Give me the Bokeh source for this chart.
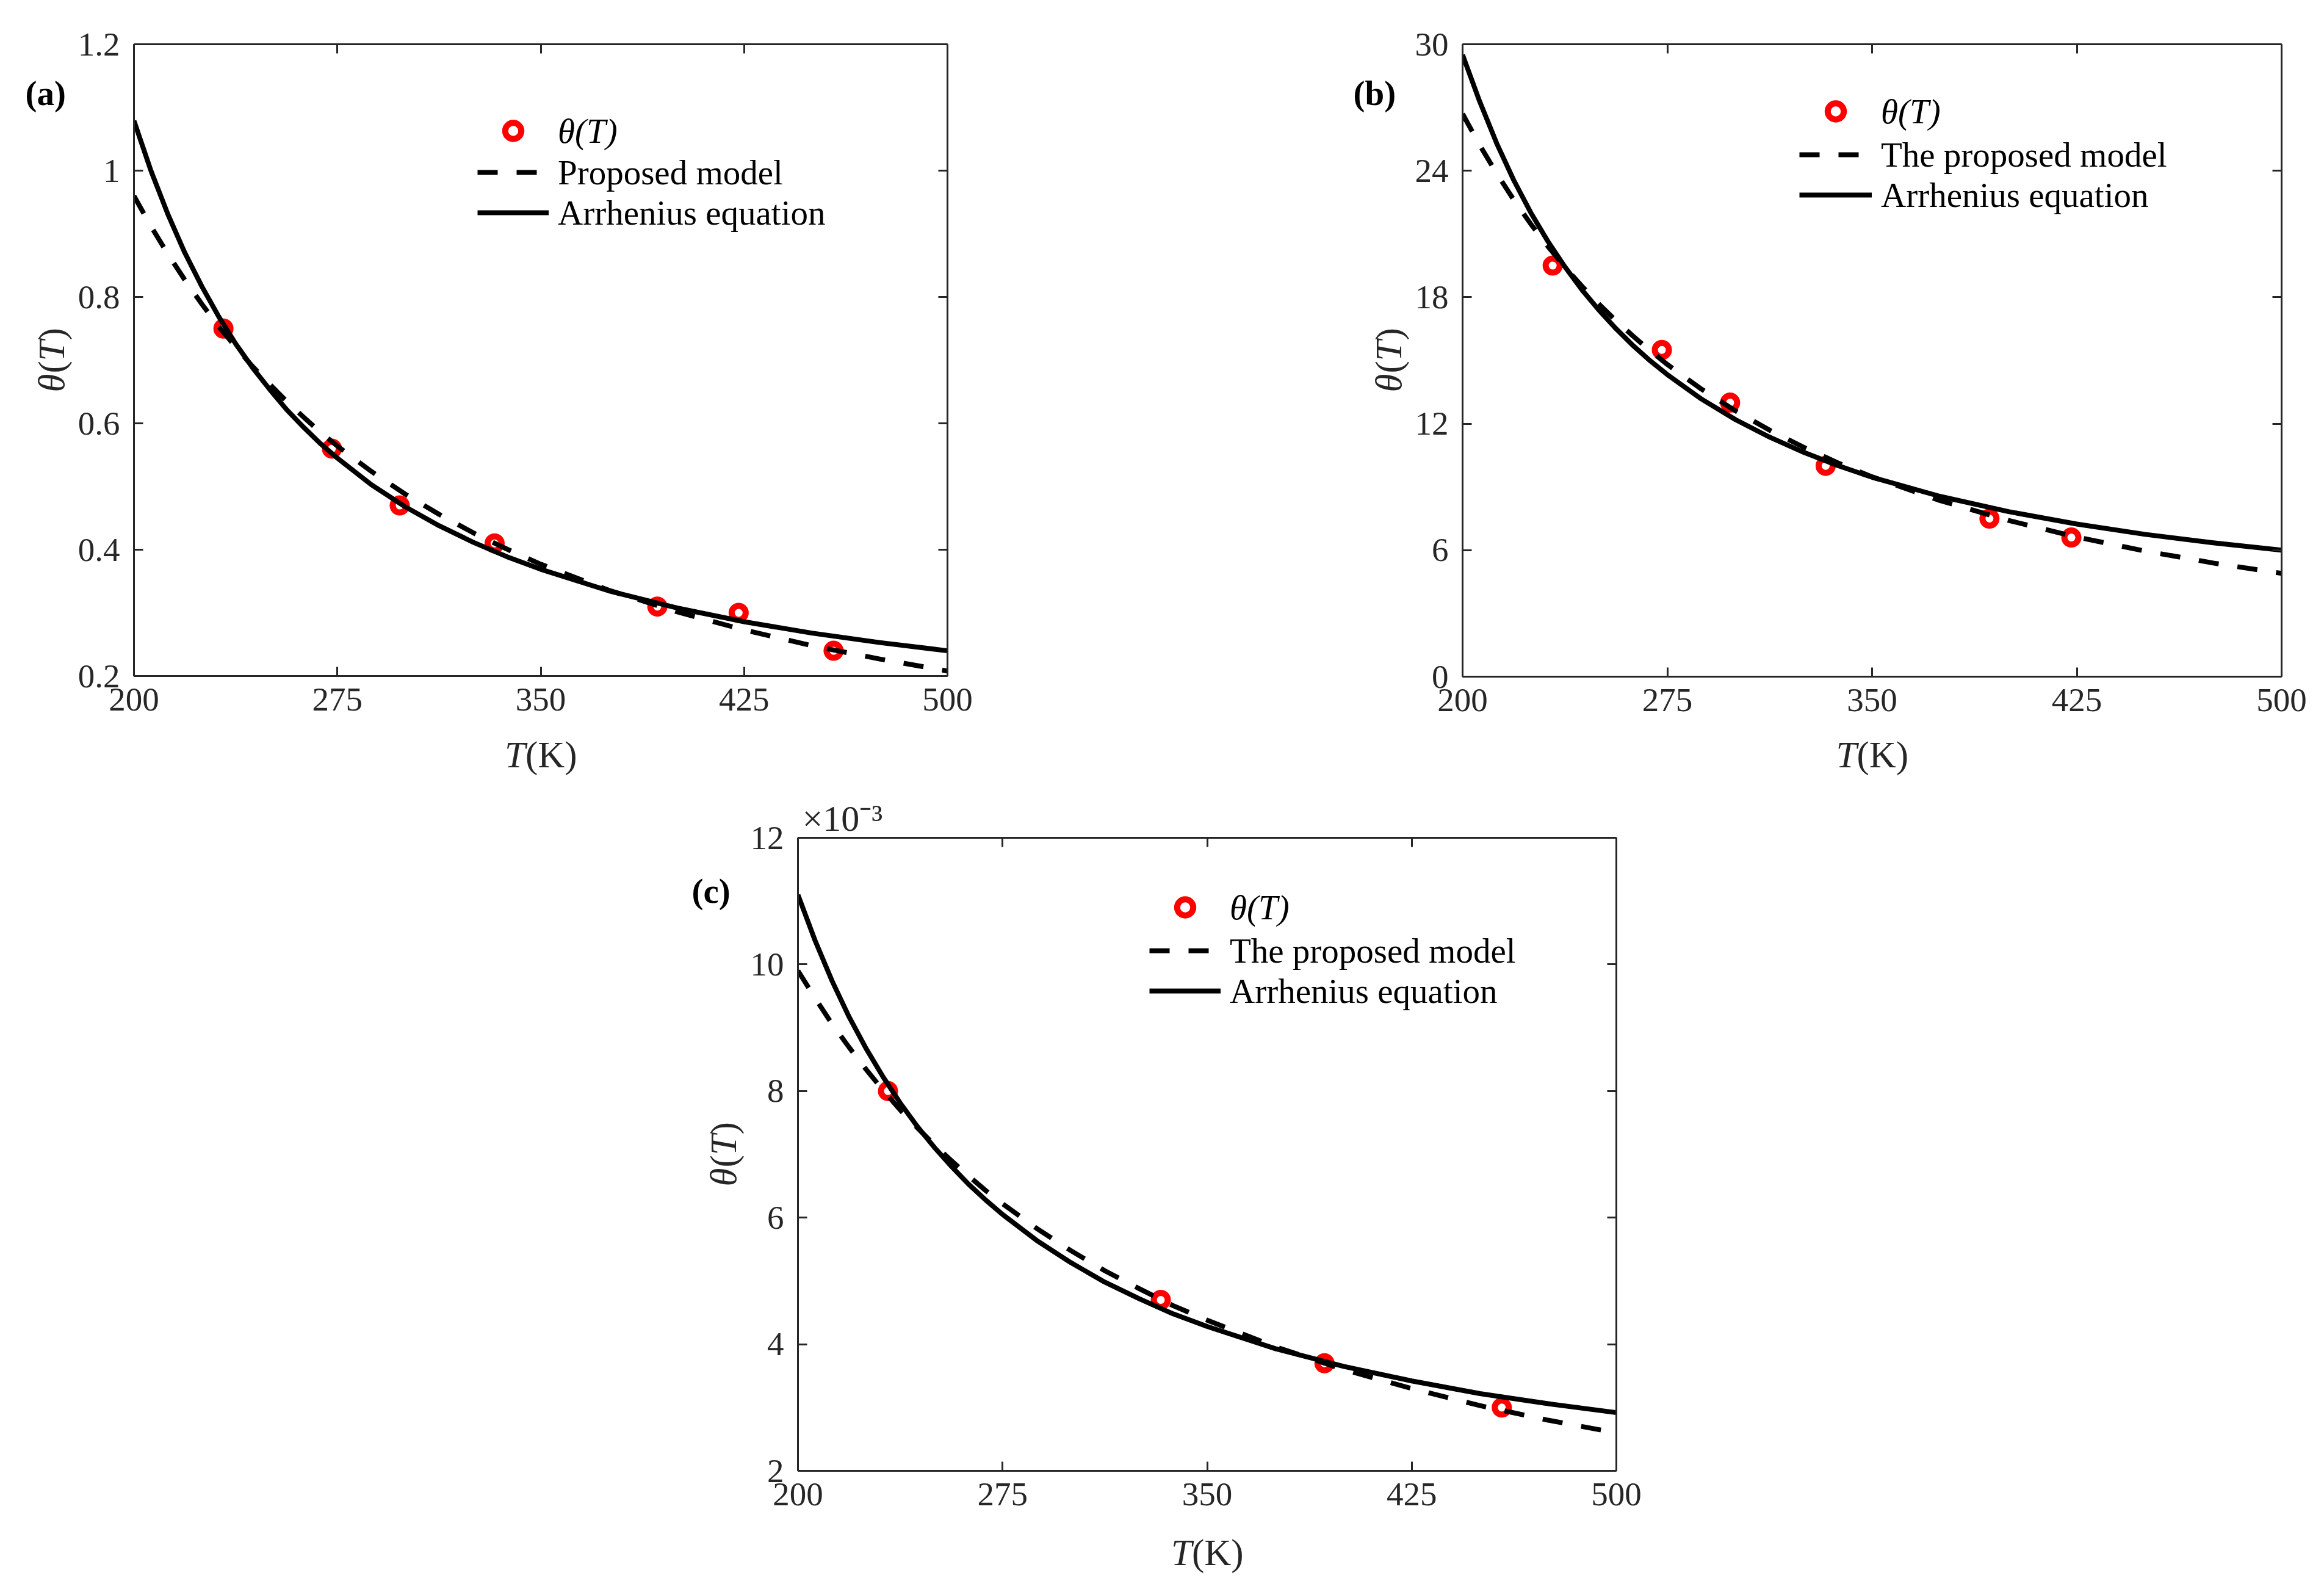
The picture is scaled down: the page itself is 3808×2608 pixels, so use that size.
import math
from bokeh.plotting import figure
from bokeh.models import (LinearAxis, FixedTicker, CustomJSTickFormatter, Legend,
                          LegendItem, Range1d, Title, Spacer)
from bokeh.layouts import row, column
from bokeh.core.properties import value
from bokeh.embed import file_html
from bokeh.resources import INLINE

FONT = "Liberation Serif"
AXC = "#262626"
TICK_PX = "55px"
LEG_PX = "57px"
LAB_PX = "61px"

# ---------------- data ----------------
T_ticks = [200, 275, 350, 425, 500]
T_curve = [200, 206.25, 212.5, 218.75, 225, 231.25, 237.5, 243.75, 250,
           256.25, 262.5, 268.75, 275, 287.5, 300, 312.5, 325, 337.5, 350,
           375, 400, 425, 450, 475, 500]

# panel (a)
a_T_pts = [233, 273, 298, 333, 393, 423, 458]
a_theta_pts = [0.75, 0.56, 0.47, 0.41, 0.31, 0.30, 0.24]
a_proposed = [0.960, 0.912, 0.868, 0.827, 0.789, 0.753, 0.721, 0.690, 0.662,
              0.635, 0.610, 0.586, 0.564, 0.524, 0.488, 0.456, 0.427, 0.401,
              0.377, 0.336, 0.302, 0.273, 0.248, 0.227, 0.208]
a_arrhenius = [1.079, 1.000, 0.931, 0.870, 0.817, 0.769, 0.726, 0.688, 0.654,
               0.622, 0.594, 0.568, 0.545, 0.503, 0.468, 0.438, 0.412, 0.389,
               0.369, 0.335, 0.308, 0.286, 0.268, 0.253, 0.240]
a_yticks = [0.2, 0.4, 0.6, 0.8, 1.0, 1.2]

# panel (b)
b_T_pts = [233, 273, 298, 333, 393, 423]
b_theta_pts = [19.5, 15.5, 13.0, 10.0, 7.5, 6.6]
b_proposed = [26.70, 25.22, 23.87, 22.62, 21.47, 20.41, 19.43, 18.52, 17.67,
              16.88, 16.15, 15.46, 14.81, 13.64, 12.61, 11.69, 10.88, 10.14,
              9.48, 8.35, 7.41, 6.62, 5.96, 5.39, 4.90]
b_arrhenius = [29.50, 27.29, 25.30, 23.55, 22.01, 20.65, 19.44, 18.35, 17.38,
               16.50, 15.70, 14.98, 14.33, 13.17, 12.19, 11.36, 10.64, 10.01,
               9.46, 8.55, 7.83, 7.24, 6.75, 6.35, 6.00]
b_yticks = [0, 6, 12, 18, 24, 30]

# panel (c)
c_T_pts = [233, 333, 393, 458]
c_theta_pts = [8.0e-3, 4.7e-3, 3.7e-3, 3.0e-3]
c_proposed = [9.90e-3, 9.47e-3, 9.06e-3, 8.69e-3, 8.34e-3, 8.01e-3, 7.70e-3,
              7.42e-3, 7.15e-3, 6.90e-3, 6.66e-3, 6.43e-3, 6.22e-3, 5.83e-3,
              5.48e-3, 5.16e-3, 4.88e-3, 4.61e-3, 4.38e-3, 3.96e-3, 3.60e-3,
              3.30e-3, 3.03e-3, 2.80e-3, 2.60e-3]
c_arrhenius = [11.10e-3, 10.38e-3, 9.74e-3, 9.17e-3, 8.67e-3, 8.22e-3,
               7.81e-3, 7.44e-3, 7.11e-3, 6.81e-3, 6.53e-3, 6.28e-3, 6.05e-3,
               5.64e-3, 5.29e-3, 4.98e-3, 4.72e-3, 4.48e-3, 4.28e-3, 3.93e-3,
               3.65e-3, 3.42e-3, 3.22e-3, 3.06e-3, 2.92e-3]
c_yticks = [0.002, 0.004, 0.006, 0.008, 0.010, 0.012]

legend_point = "θ(T)"
legend_arr = "Arrhenius equation"


def style_axis(ax, show_labels, standoff=20):
    ax.axis_line_color = AXC
    ax.axis_line_width = 3
    ax.major_tick_line_color = AXC
    ax.major_tick_line_width = 3
    ax.major_tick_in = 15
    ax.major_tick_out = 0
    ax.minor_tick_line_color = None
    ax.axis_label = None
    ax.major_label_text_font = FONT
    ax.major_label_text_color = AXC
    if show_labels:
        ax.major_label_text_font_size = TICK_PX
        ax.major_label_standoff = standoff
    else:
        ax.major_label_text_font_size = "1px"
        ax.major_label_standoff = 0
        ax.formatter = CustomJSTickFormatter(code="return '';")


def panel(width, height, bl, br, bt, bb, fh, yr, yticks, yfmt, Tp, yp, yprop,
          yarr, prop_label, leg_left, leg_top1, leg_top2, glyph_w):
    p = figure(width=width, height=height, x_range=Range1d(200, 500),
               y_range=Range1d(*yr), output_backend="svg",
               toolbar_location=None, min_border_left=bl, min_border_right=br,
               min_border_top=bt, min_border_bottom=bb)
    p.outline_line_color = None
    p.xgrid.visible = False
    p.ygrid.visible = False
    p.background_fill_color = "white"
    p.border_fill_color = "white"

    r_pts = p.scatter(Tp, yp, marker="circle", size=23, line_color="#ff0000",
                      line_width=10, fill_color="white")
    r_prop = p.line(T_curve, yprop, line_color="black", line_width=8,
                    line_dash="33 31", line_join="round")
    r_arr = p.line(T_curve, yarr, line_color="black", line_width=8,
                   line_join="round")

    xa = p.xaxis[0]
    ya = p.yaxis[0]
    style_axis(xa, True, 20)
    style_axis(ya, True, 23)
    xa.ticker = FixedTicker(ticks=T_ticks)
    ya.ticker = FixedTicker(ticks=yticks)
    ya.formatter = CustomJSTickFormatter(code=yfmt)
    top = LinearAxis(ticker=FixedTicker(ticks=T_ticks))
    right = LinearAxis(ticker=FixedTicker(ticks=yticks))
    style_axis(top, False)
    style_axis(right, False)
    p.add_layout(top, "above")
    p.add_layout(right, "right")

    leg1 = Legend(items=[LegendItem(label=legend_point, renderers=[r_pts])],
                  location=(leg_left, fh - leg_top1 - 66))
    leg2 = Legend(items=[LegendItem(label=prop_label, renderers=[r_prop]),
                         LegendItem(label=legend_arr, renderers=[r_arr])],
                  location=(leg_left, fh - leg_top2 - 132))
    for lg in (leg1, leg2):
        lg.glyph_width = glyph_w
        lg.glyph_height = 66
        lg.label_height = 66
        lg.label_standoff = 15
        lg.padding = 0
        lg.margin = 0
        lg.spacing = 0
        lg.border_line_color = None
        lg.background_fill_alpha = 0
        lg.label_text_font = FONT
        lg.label_text_font_size = LEG_PX
        lg.label_text_color = "black"
        lg.label_text_baseline = "middle"
    leg1.label_text_font_style = "italic"
    p.add_layout(leg1)
    p.add_layout(leg2)
    return p


def text_fig(w, h, bl=0, br=0, xr=None):
    f = figure(width=w, height=h,
               x_range=Range1d(*(xr if xr else (0, w))), y_range=Range1d(0, h),
               output_backend="svg", toolbar_location=None,
               min_border_left=bl, min_border_right=br, min_border_top=0,
               min_border_bottom=0, x_axis_location=None,
               y_axis_location=None)
    f.outline_line_color = None
    f.background_fill_color = "white"
    f.border_fill_color = "white"
    for g in f.grid:
        g.visible = False
    return f


def put(f, x, ytop, txt, size, style="normal", angle=0.0, align="left",
        color="black", xo=0):
    h = f.height
    f.text(x=[x], y=[h - ytop], text=[txt], text_font=value(FONT),
           text_font_size=size, text_font_style=style, angle=angle,
           text_align=align, text_baseline="middle", text_color=color,
           x_offset=xo)


def y_title(f, xc, yc_top):
    pieces = [("θ", "italic", 0), ("(", "normal", 31), ("T", "italic", 51),
              (")", "normal", 85)]
    h = f.height
    for txt, st, off in pieces:
        f.text(x=[xc], y=[h - yc_top - 52 + off], text=[txt],
               text_font=value(FONT), text_font_size=LAB_PX,
               text_font_style=st, angle=math.pi / 2, text_align="left",
               text_baseline="middle", text_color=AXC)


def x_title(f, yc_top):
    # centred on the middle of the T axis (350 K)
    put(f, 350, yc_top, "T", LAB_PX, style="italic", color=AXC, xo=-59)
    put(f, 350, yc_top, "(K)", LAB_PX, color=AXC, xo=-25)


# ---------------- panel figures ----------------
pa = panel(1780, 1189, 99, 348, 64, 90, 1035, (0.2, 1.2), a_yticks,
           "return (Math.round(tick*10)/10).toString();",
           a_T_pts, a_theta_pts, a_proposed, a_arrhenius, "Proposed model",
           563, 109, 177, 117)
pb = panel(1486, 1189, 82, 62, 64, 89, 1036, (0, 30), b_yticks,
           "return tick.toFixed(0);",
           b_T_pts, b_theta_pts, b_proposed, b_arrhenius,
           "The proposed model", 552, 77, 148, 119)
pc = panel(1482, 1199, 80, 60, 72, 90, 1037, (0.002, 0.012), c_yticks,
           "return (tick*1000).toFixed(0);",
           c_T_pts, c_theta_pts, c_proposed, c_arrhenius,
           "The proposed model", 576, 81, 152, 117)

# ×10^-3 multiplier for panel (c)
pc.add_layout(Title(text="×10⁻³", align="left", offset=7, standoff=-3,
                    text_font=FONT, text_font_size="60px",
                    text_font_style="normal", text_color=AXC), "above")

# ---------------- text strips ----------------
la = text_fig(112, 1292)
put(la, 33, 144, "(a)", "57px", style="bold")
y_title(la, 76, 582)
ba = text_fig(1780, 103, 99, 348, (200, 500))
x_title(ba, 39)

lb = text_fig(414, 1292)
put(lb, 317, 144, "(b)", "57px", style="bold")
y_title(lb, 375, 582)
bbx = text_fig(1486, 103, 82, 62, (200, 500))
x_title(bbx, 39)

lc = text_fig(1218, 1300)
put(lc, 1125, 159, "(c)", "57px", style="bold")
y_title(lc, 1177, 591)
bc = text_fig(1482, 101, 80, 60, (200, 500))
x_title(bc, 44)

layout = column(
    Spacer(width=3800, height=8),
    row(Spacer(width=8, height=1292), la, column(pa, ba), lb,
        column(pb, bbx)),
    row(Spacer(width=8, height=1300), lc, column(pc, bc)),
)

with open("out.html", "w") as f:
    f.write(file_html(layout, INLINE))
